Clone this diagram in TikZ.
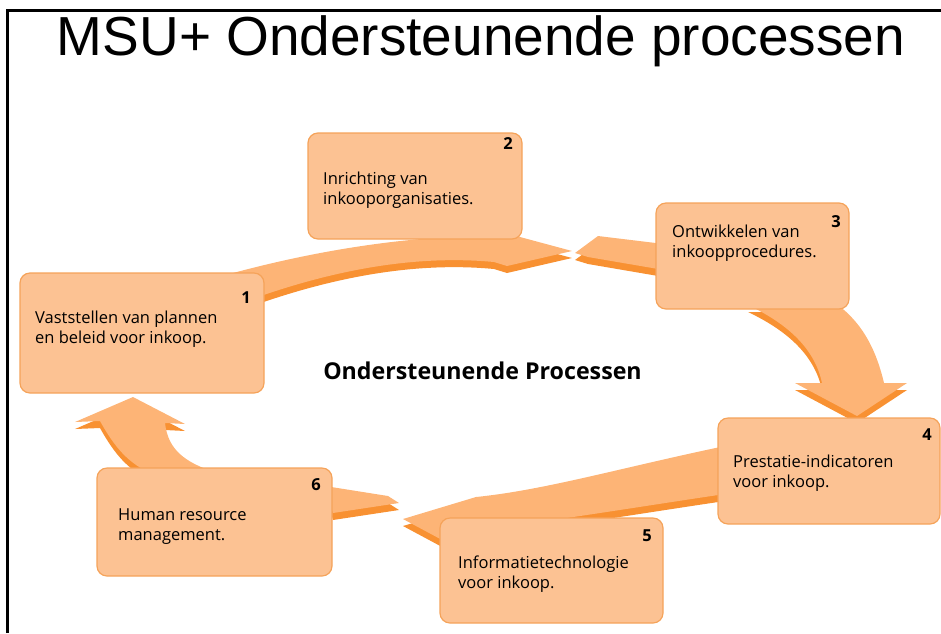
\documentclass[tikz,border=0pt]{standalone}
\usepackage{fontspec}
\setmainfont{Open Sans}
\newfontfamily\titlefont{Liberation Sans}
\definecolor{boxfill}{RGB}{252,194,147}
\definecolor{boxline}{RGB}{245,163,90}
\definecolor{arrlight}{RGB}{253,180,118}
\definecolor{arrdark}{RGB}{248,145,50}
% ribbon arrow: dark underside first, light face on top
\newcommand{\ribbon}[1]{\fill[arrdark, yshift=-7pt] #1; \fill[arrlight] #1;}
\begin{document}
\begin{tikzpicture}[x=1pt, y=-1pt,
    procbox/.style={draw=boxline, fill=boxfill, line width=1.2pt, rounded corners=10pt, inner sep=0pt},
    proctext/.style={anchor=north west, inner sep=0pt, align=left, font=\fontsize{16.5}{20}\selectfont},
    procnum/.style={anchor=base east, inner sep=0pt, font=\fontsize{16.5}{20}\selectfont\bfseries}]
    \useasboundingbox (0,0) rectangle (941,633);

    % Frame
    \draw[line width=3pt] (7,633) -- (7,10) -- (941,10);

    % Title
    \node[anchor=base, inner sep=0pt, font=\titlefont\fontsize{55}{60}\selectfont] (title) at (481,55) {MSU+ Ondersteunende processen};

    % Arrows (behind the boxes)
    \ribbon{(215,278) .. controls (320,248) and (430,232) .. (520,237) -- (572,251) -- (507,266) -- (494,262) .. controls (420,255) and (340,268) .. (255,298) -- cycle}
    \ribbon{(598,236) -- (575,253) -- (588,257) -- (664,270) -- (664,244) -- cycle}
    \ribbon{(748,305) .. controls (790,325) and (815,350) .. (822,383) -- (795,383) -- (857,416) -- (907,383) -- (884,383) .. controls (875,345) and (860,322) .. (838,305) -- cycle}
    \ribbon{(725,446) .. controls (620,468) and (545,490) .. (476,497) -- (403,519) -- (444,541) -- (458,533) .. controls (560,520) and (650,505) .. (725,494) -- cycle}
    \ribbon{(325,486) -- (388,496) -- (399,503) -- (333,513) -- cycle}
    \ribbon{(214,472) .. controls (185,462) and (168,450) .. (165,423) -- (185,424) -- (133,397) -- (75,422) -- (100,421) .. controls (115,448) and (128,462) .. (148,472) -- cycle}

    % Boxes
    \node[procbox, minimum width=244pt, minimum height=120pt] (b1) at (142,333) {};
    \node[procbox, minimum width=214pt, minimum height=106pt] (b2) at (415,186) {};
    \node[procbox, minimum width=193pt, minimum height=106pt] (b3) at (752.5,256) {};
    \node[procbox, minimum width=222pt, minimum height=106pt] (b4) at (829,471) {};
    \node[procbox, minimum width=223pt, minimum height=105pt] (b5) at (551.5,570.5) {};
    \node[procbox, minimum width=235pt, minimum height=108pt] (b6) at (214.5,522) {};

    % Numbers
    \node[procnum] (n1) at (251,303) {1};
    \node[procnum] (n2) at (513,149) {2};
    \node[procnum] (n3) at (841,227) {3};
    \node[procnum] (n4) at (932,440) {4};
    \node[procnum] (n5) at (652,541) {5};
    \node[procnum] (n6) at (321,490) {6};

    % Texts
    \node[proctext] (t1) at (35,310.5) {Vaststellen van plannen\\en beleid voor inkoop.};
    \node[proctext] (t2) at (323,171.5) {Inrichting van\\inkooporganisaties.};
    \node[proctext] (t3) at (672,224.5) {Ontwikkelen van\\inkoopprocedures.};
    \node[proctext] (t4) at (733,454.5) {Prestatie-indicatoren\\voor inkoop.};
    \node[proctext] (t5) at (458,555.5) {Informatietechnologie\\voor inkoop.};
    \node[proctext] (t6) at (118,508.5) {Human resource\\management.};

    % Centre label
    \node[anchor=base, inner sep=0pt, font=\fontsize{23.2}{27}\selectfont\bfseries] (centre) at (482.5,379) {Ondersteunende Processen};
\end{tikzpicture}
\end{document}
